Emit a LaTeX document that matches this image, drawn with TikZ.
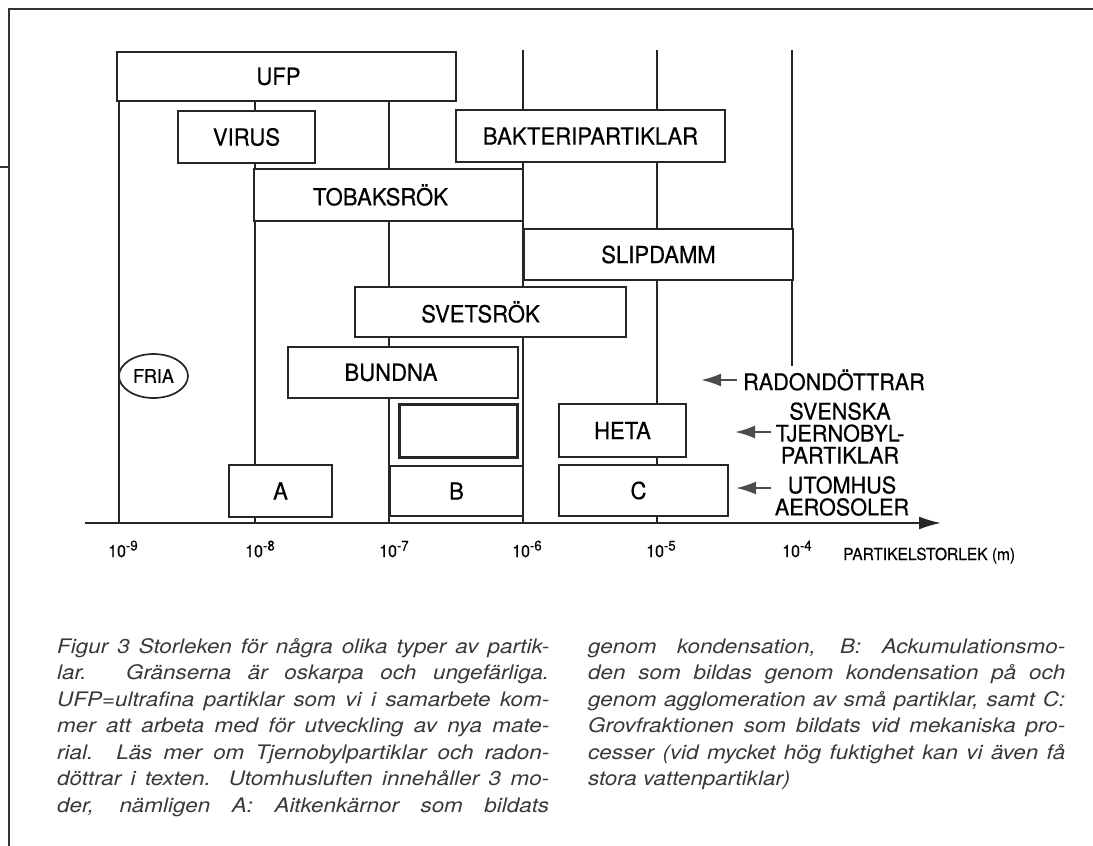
\documentclass[tikz,border=0pt]{standalone}
\usepackage{fontspec}
\setmainfont{TeX Gyre Heros}
\newfontfamily\labelfam{TeX Gyre Heros}[FakeStretch=0.94, FakeBold=0.5]
\newfontfamily\capfam{TeX Gyre Heros}[FakeStretch=1.12]
\usetikzlibrary{arrows.meta,shapes.geometric}
\newcommand\boxfont{\labelfam\fontsize{23.5}{23.5}\selectfont}
\newcommand\sidefont{\labelfam\fontsize{23}{22}\selectfont}
\newcommand\tickfont{\labelfam\fontsize{17}{17}\selectfont}
\newcommand\capfont{\capfam\fontsize{20}{21}\selectfont\itshape\color{black!78}}
\newcommand\tk[1]{10\raisebox{6.5pt}{\fontsize{14}{14}\selectfont -#1}}
\tikzset{
  frame/.style={line width=1.6pt, black!80},
  grid/.style={line width=1.7pt, black!85},
  box/.style={draw=black!85, line width=1.7pt, fill=white, inner sep=0pt, font=\boxfont},
  sidelabel/.style={inner sep=0pt, font=\sidefont, align=center},
  arr/.style={-{Latex[length=20pt,width=13pt]}, line width=2.2pt, black!70},
  axisline/.style={-{Latex[length=22pt,width=13pt]}, line width=1.8pt, black!85},
  ticklabel/.style={anchor=base west, inner sep=0pt, font=\tickfont},
  capline/.style={anchor=base west, inner sep=0pt, font=\capfont}
}
\begin{document}
\begin{tikzpicture}[x=1pt,y=-1pt]
\useasboundingbox (0,0) rectangle (1093,846);
% frame
\draw[frame] (8,9) -- (1093,9);
\draw[frame] (9,9) -- (9,846);
\draw[frame] (0,167) -- (9,167);
% grid lines
\draw[grid] (119,101) -- (119,523);
\draw[grid] (255,101) -- (255,523);
\draw[grid] (389,101) -- (389,523);
\draw[grid] (523,50) -- (523,523);
\draw[grid] (657,50) -- (657,523);
\draw[grid] (792,50) -- (792,366);
% axis
\coordinate (ax0) at (85,523);
\coordinate (ax1) at (941,523);
\draw[axisline] (ax0) -- (ax1);
% boxes
\node[box, minimum width=339pt, minimum height=49pt] (ufp) at (286.5,76.5) {\hspace*{-16pt}UFP};
\node[box, minimum width=137pt, minimum height=52pt] (virus) at (246.5,137) {VIRUS};
\node[box, minimum width=269pt, minimum height=52pt] (bakt) at (590.5,136) {BAKTERIPARTIKLAR};
\node[box, minimum width=269pt, minimum height=52pt] (tobak) at (388.5,195) {\hspace*{-16pt}TOBAKSRÖK};
\node[box, minimum width=269pt, minimum height=51pt] (slip) at (658.5,254.5) {SLIPDAMM};
\node[box, minimum width=271pt, minimum height=50pt] (svets) at (490.5,312) {\hspace*{-20pt}SVETSRÖK};
\node[box, minimum width=230pt, minimum height=51pt] (bund) at (403,372.5) {\hspace*{-24pt}BUNDNA};
\node[box, minimum width=103pt, minimum height=52pt] (boxa) at (280.5,491) {A};
\node[box, line width=3pt, minimum width=118pt, minimum height=53pt] (inner) at (458,430.5) {};
\node[box, minimum width=133pt, minimum height=50pt] (boxb) at (456.5,491) {B};
\node[box, minimum width=127pt, minimum height=53pt] (heta) at (622.5,430.5) {HETA};
\node[box, minimum width=169pt, minimum height=51pt] (boxc) at (643.5,490.5) {\hspace*{-10pt}C};
\node[box, ellipse, minimum width=69pt, minimum height=44pt, font=\labelfam\fontsize{19}{19}\selectfont] (fria) at (153.5,376) {FRIA};
% side labels and arrows
\node[sidelabel, anchor=west] (radon) at (743,380) {RADONDÖTTRAR};
\coordinate (radontip) at (701,380);
\draw[arr] ([xshift=-6pt]radon.west) -- (radontip);
\node[sidelabel] (tjern) at (840,433) {SVENSKA\\TJERNOBYL-\\PARTIKLAR};
\coordinate (tjerntip) at (735,432);
\draw[arr] ([xshift=-4pt]tjern.west |- tjerntip) -- (tjerntip);
\node[sidelabel] (utom) at (842,496) {UTOMHUS\\AEROSOLER};
\coordinate (utomtail) at (771,488);
\coordinate (utomtip) at (736,488);
\draw[arr] (utomtail) -- (utomtip);
% tick labels
\node[ticklabel] (t9) at (108,557) {\tk{9}};
\node[ticklabel] (t8) at (245,557) {\tk{8}};
\node[ticklabel] (t7) at (379,557) {\tk{7}};
\node[ticklabel] (t6) at (512,557) {\tk{6}};
\node[ticklabel] (t5) at (646,557) {\tk{5}};
\node[ticklabel] (t4) at (782,557) {\tk{4}};
\node[ticklabel, font=\labelfam\fontsize{16.5}{16.5}\selectfont] (xlab) at (843,560) {PARTIKELSTORLEK (m)};
% caption, left column
\node[capline] (cl1) at (57,653) {\makebox[492pt][s]{Figur 3 Storleken för några olika typer av partik-}};
\node[capline] (cl2) at (57,679.5) {\makebox[492pt][s]{lar. Gränserna är oskarpa och ungefärliga.}};
\node[capline] (cl3) at (57,706) {\makebox[492pt][s]{UFP=ultrafina partiklar som vi i samarbete kom-}};
\node[capline] (cl4) at (57,732.5) {\makebox[492pt][s]{mer att arbeta med för utveckling av nya mate-}};
\node[capline] (cl5) at (57,759) {\makebox[492pt][s]{rial. Läs mer om Tjernobylpartiklar och radon-}};
\node[capline] (cl6) at (57,785.5) {\makebox[492pt][s]{döttrar i texten. Utomhusluften innehåller 3 mo-}};
\node[capline] (cl7) at (57,812) {\makebox[492pt][s]{der, nämligen A: Aitkenkärnor som bildats}};
% caption, right column
\node[capline] (cr1) at (588,653) {\makebox[477pt][s]{genom kondensation, B: Ackumulationsmo-}};
\node[capline] (cr2) at (588,679.5) {\makebox[477pt][s]{den som bildas genom kondensation på och}};
\node[capline] (cr3) at (588,706) {\makebox[477pt][s]{genom agglomeration av små partiklar, samt C:}};
\node[capline] (cr4) at (588,732.5) {\makebox[477pt][s]{Grovfraktionen som bildats vid mekaniska pro-}};
\node[capline] (cr5) at (588,759) {\makebox[477pt][s]{cesser (vid mycket hög fuktighet kan vi även få}};
\node[capline] (cr6) at (588,785.5) {stora vattenpartiklar)};
\end{tikzpicture}
\end{document}
